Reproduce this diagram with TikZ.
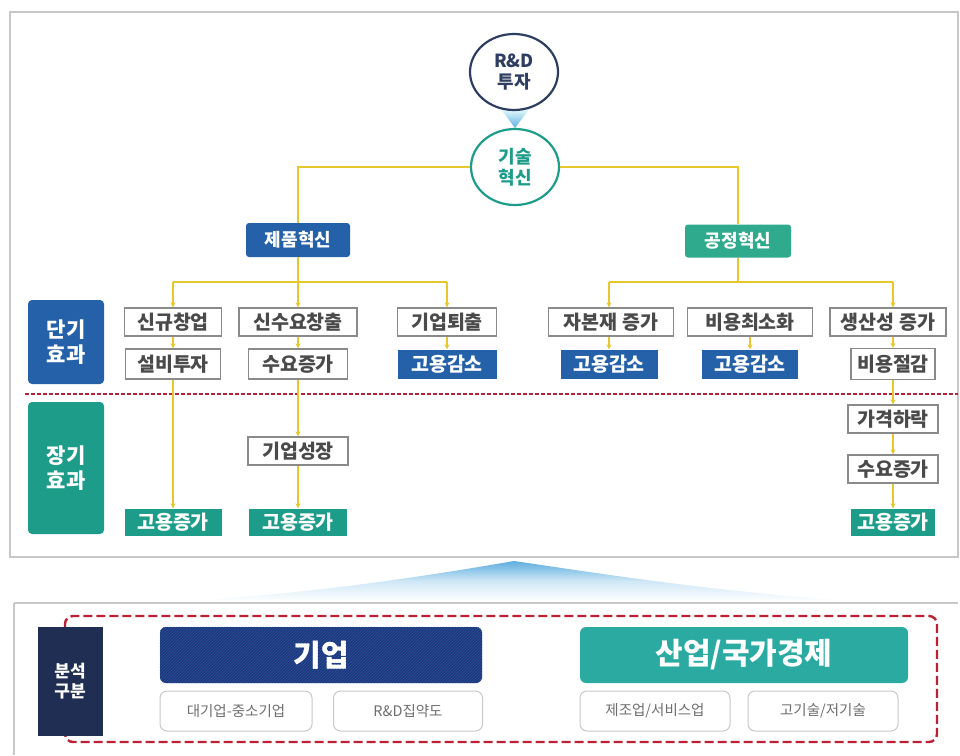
\documentclass[tikz,border=0pt]{standalone}
\usepackage{fontspec}
\setmainfont{Noto Sans CJK KR}
\usetikzlibrary{arrows.meta,shapes.geometric,patterns}
\definecolor{cyl}{HTML}{E6C72E}
\definecolor{cblue}{HTML}{2461A8}
\definecolor{cteal}{HTML}{1E9C8A}
\definecolor{cgreen}{HTML}{2FAA8C}
\definecolor{cnavy}{HTML}{2E3E60}
\definecolor{ctxt}{HTML}{4A4A4A}
\definecolor{cbord}{HTML}{8A8A8A}
\definecolor{cred}{HTML}{B5233A}
\definecolor{cent}{HTML}{22367C}
\definecolor{cind}{HTML}{2BAAA2}
\definecolor{cana}{HTML}{1F2E52}
\definecolor{cpanel}{HTML}{C8C8C8}
\definecolor{cspot}{HTML}{5FAEE0}
\tikzset{
  yl/.style={draw=cyl, line width=2pt},
  arr/.style={-{Stealth[length=5pt,width=5pt]}},
  ell/.style={ellipse, line width=2.2pt, fill=white, minimum width=88, minimum height=76, inner sep=0pt, align=center, font=\fontsize{18}{21}\selectfont\bfseries},
  wbox/.style={rectangle, draw=cbord, line width=1.3pt, fill=white, text=ctxt, minimum height=28, inner sep=0pt, font=\fontsize{19.5}{21}\selectfont\bfseries},
  bbox/.style={rectangle, fill=cblue, text=white, minimum height=29, inner sep=0pt, font=\fontsize{19.5}{21}\selectfont\bfseries},
  tbox/.style={rectangle, fill=cteal, text=white, minimum height=27, inner sep=0pt, font=\fontsize{19.5}{21}\selectfont\bfseries},
  lbox/.style={rectangle, rounded corners=4, text=white, inner sep=0pt, align=center, minimum width=76, font=\fontsize{21}{25}\selectfont\bfseries},
  sbox/.style={rectangle, rounded corners=7, draw=cpanel, line width=1pt, fill=white, text=ctxt!80, minimum height=40, inner sep=0pt, font=\fontsize{14.5}{16}\selectfont},
  big/.style={rectangle, rounded corners=6, text=white, minimum height=56, inner sep=0pt, font=\fontsize{30}{32}\selectfont\bfseries}
}
\begin{document}
\begin{tikzpicture}[x=1pt,y=-1pt]
\useasboundingbox (0,0) rectangle (960,755);
\fill[white] (0,0) rectangle (960,755);
% panels
\draw[cpanel, line width=1.2pt] (10,12) rectangle (958,557);
\draw[cpanel, line width=1.2pt] (14,603) -- (958,603);
\draw[cpanel, line width=1.2pt] (14,603) -- (14,755);
% spotlight
\shade[top color=cspot, bottom color=white, middle color=cspot!30]
  (190,601) .. controls (330,592) and (450,572) .. (514,561)
  .. controls (590,572) and (700,590) .. (850,601) -- cycle;
% circles
\shade[top color=cyan!8, bottom color=cspot] (500,108) -- (530,108) -- (515,128) -- cycle;
\node[ell, draw=cnavy, text=cnavy] (rd) at (514,72) {R\&D\\투자};
\node[ell, draw=cteal, text=cteal] (ti) at (515,167) {기술\\혁신};
% level 2
\node[bbox, rounded corners=3, minimum width=104, minimum height=34, font=\fontsize{18}{20}\selectfont\bfseries] (jp) at (298,240) {제품혁신};
\node[bbox, fill=cgreen, rounded corners=3, minimum width=106, minimum height=33, font=\fontsize{18}{20}\selectfont\bfseries] (gj) at (738,241) {공정혁신};
\draw[yl] (ti.west) -| (jp.north);
\draw[yl] (ti.east) -| (gj.north);
% side labels
\node[lbox, fill=cblue, minimum height=84] (st) at (66,342) {단기\\효과};
\node[lbox, fill=cteal, minimum height=132] (lt) at (66,468) {장기\\효과};
% red dashed separator
\coordinate (sepL) at (25,394);
\coordinate (sepR) at (958,394);
\draw[cred, line width=1.4pt, dash pattern=on 4pt off 2pt] (sepL) -- (sepR);
% left nodes
\coordinate (hub) at (0,282);
\node[wbox, minimum width=97] (a1) at (173,322) {신규창업};
\node[wbox, minimum width=118] (a2) at (298,322) {신수요창출};
\node[wbox, minimum width=99] (a3) at (447,322) {기업퇴출};
\node[wbox, minimum width=95, minimum height=30] (b1) at (173,364) {설비투자};
\node[wbox, minimum width=99, minimum height=30] (b2) at (298,364) {수요증가};
\node[bbox, minimum width=99] (b3) at (447,364) {고용감소};
\node[wbox, minimum width=100] (c2) at (298,451) {기업성장};
\node[tbox, minimum width=97] (d1) at (173,522) {고용증가};
\node[tbox, minimum width=98] (d2) at (298,522) {고용증가};
% right nodes
\node[wbox, minimum width=125] (e1) at (611,322) {자본재 증가};
\node[wbox, minimum width=125] (e2) at (750,322) {비용최소화};
\node[wbox, minimum width=116] (e3) at (888,322) {생산성 증가};
\node[bbox, minimum width=97] (f1) at (609,364) {고용감소};
\node[bbox, minimum width=96] (f2) at (750,364) {고용감소};
\node[wbox, minimum width=84, minimum height=31] (f3) at (893,364) {비용절감};
\node[wbox, minimum width=90] (g3) at (893,419) {가격하락};
\node[wbox, minimum width=90] (h3) at (893,469) {수요증가};
\node[tbox, minimum width=84] (i3) at (893,522) {고용증가};
% hub lines
\draw[yl] (jp.south) -- (jp.south |- hub);
\draw[yl] (a1 |- hub) -- (a3 |- hub);
\draw[yl, arr] (a1 |- hub) -- (a1.north);
\draw[yl, arr] (a2 |- hub) -- (a2.north);
\draw[yl, arr] (a3 |- hub) -- (a3.north);
\draw[yl] (gj.south) -- (gj.south |- hub);
\draw[yl] (f1 |- hub) -- (f3 |- hub);
\draw[yl, arr] (f1 |- hub) -- (e1.north -| f1);
\draw[yl, arr] (f3 |- hub) -- (e3.north -| f3);
% chains
\draw[yl, arr] (a1) -- (b1);
\draw[yl, arr] (b1) -- (d1);
\draw[yl, arr] (a2) -- (b2);
\draw[yl, arr] (b2) -- (c2);
\draw[yl, arr] (c2) -- (d2);
\draw[yl, arr] (a3) -- (b3);
\draw[yl, arr] (e1.south -| f1) -- (f1);
\draw[yl, arr] (e2) -- (f2);
\draw[yl, arr] (e3.south -| f3) -- (f3);
\draw[yl, arr] (f3) -- (g3);
\draw[yl, arr] (g3) -- (h3);
\draw[yl, arr] (h3) -- (i3);
% bottom section
\draw[cred!90!red, line width=2.4pt, dash pattern=on 9pt off 4pt, rounded corners=8] (65,616) rectangle (937,742);
\node[rectangle, fill=cana, text=white, minimum width=65, minimum height=109, inner sep=0pt, align=center, font=\fontsize{17}{20}\selectfont\bfseries] (an) at (70,681) {분석\\구분};
\node[big, fill=cent, minimum width=322] (ent) at (321,655) {기업};
\fill[pattern=north east lines, pattern color=cblue!70!cent, rounded corners=6] (ent.south west) rectangle (ent.north east);
\node[text=white, font=\fontsize{30}{32}\selectfont\bfseries] at (ent.center) {기업};
\node[big, fill=cind, minimum width=328] (ind) at (744,655) {산업/국가경제};
\node[sbox, minimum width=152] (s1) at (236,711) {대기업-중소기업};
\node[sbox, minimum width=149] (s2) at (408,711) {R\&D집약도};
\node[sbox, minimum width=150] (s3) at (655,711) {제조업/서비스업};
\node[sbox, minimum width=150] (s4) at (823,711) {고기술/저기술};
\end{tikzpicture}
\end{document}
